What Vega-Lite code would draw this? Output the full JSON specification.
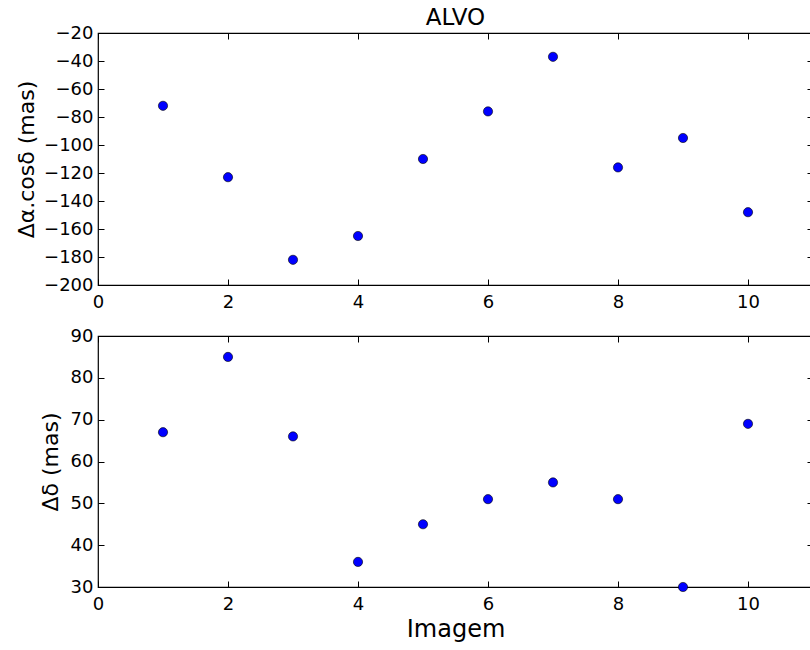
{
  "$schema": "https://vega.github.io/schema/vega-lite/v6.json",
  "padding": {"left": 14, "top": 6, "right": 0, "bottom": 5},
  "background": "white",
  "config": {
    "font": "DejaVu Sans",
    "view": {"stroke": "black", "strokeWidth": 1.2},
    "axis": {
      "domain": false, "grid": false,
      "tickColor": "black", "tickSize": -6, "tickWidth": 1,
      "labelFont": "DejaVu Sans", "labelFontSize": 18, "labelColor": "black",
      "titleFont": "DejaVu Sans", "titleFontWeight": "normal", "titleColor": "black"
    },
    "title": {"font": "DejaVu Sans", "fontSize": 23, "fontWeight": "normal", "color": "black"}
  },
  "datasets": {
    "pts": [
      {"imagem": 1, "dra": -72, "ddec": 67},
      {"imagem": 2, "dra": -123, "ddec": 85},
      {"imagem": 3, "dra": -182, "ddec": 66},
      {"imagem": 4, "dra": -165, "ddec": 36},
      {"imagem": 5, "dra": -110, "ddec": 45},
      {"imagem": 6, "dra": -76, "ddec": 51},
      {"imagem": 7, "dra": -37, "ddec": 55},
      {"imagem": 8, "dra": -116, "ddec": 51},
      {"imagem": 9, "dra": -95, "ddec": 30},
      {"imagem": 10, "dra": -148, "ddec": 69}
    ]
  },
  "data": {"name": "pts"},
  "bounds": "flush",
  "spacing": 51,
  "vconcat": [
    {
      "width": 715, "height": 252,
      "title": {"text": "ALVO", "offset": -6},
      "layer": [
        {
          "mark": {"type": "point", "filled": true, "fill": "#0000ff", "stroke": "black", "strokeWidth": 0.6, "size": 85, "opacity": 1, "clip": false},
          "encoding": {
            "x": {"field": "imagem", "type": "quantitative", "scale": {"domain": [0, 11], "nice": false, "zero": false},
                  "axis": {"orient": "bottom", "values": [0, 2, 4, 6, 8, 10], "title": null, "labelPadding": 14, "labelFlush": false}},
            "y": {"field": "dra", "type": "quantitative", "scale": {"domain": [-200, -20], "nice": false, "zero": false},
                  "axis": {"orient": "left", "values": [-200, -180, -160, -140, -120, -100, -80, -60, -40, -20], "title": "Δα.cosδ (mas)", "titleFontSize": 22, "labelPadding": 11, "titlePadding": 5, "labelFlush": false}}
          }
        },
        {
          "mark": {"type": "point", "opacity": 0},
          "encoding": {
            "x": {"field": "imagem", "type": "quantitative",
                  "axis": {"orient": "top", "values": [0, 2, 4, 6, 8, 10], "labels": false, "title": null}},
            "y": {"field": "dra", "type": "quantitative",
                  "axis": {"orient": "right", "values": [-200, -180, -160, -140, -120, -100, -80, -60, -40, -20], "labels": false, "title": null}}
          }
        }
      ],
      "resolve": {"axis": {"x": "independent", "y": "independent"}}
    },
    {
      "width": 715, "height": 251,
      "layer": [
        {
          "mark": {"type": "point", "filled": true, "fill": "#0000ff", "stroke": "black", "strokeWidth": 0.6, "size": 85, "opacity": 1, "clip": false},
          "encoding": {
            "x": {"field": "imagem", "type": "quantitative", "scale": {"domain": [0, 11], "nice": false, "zero": false},
                  "axis": {"orient": "bottom", "values": [0, 2, 4, 6, 8, 10], "title": "Imagem", "titleFontSize": 24, "titlePadding": 4, "labelPadding": 14, "labelFlush": false}},
            "y": {"field": "ddec", "type": "quantitative", "scale": {"domain": [30, 90], "nice": false, "zero": false},
                  "axis": {"orient": "left", "values": [30, 40, 50, 60, 70, 80, 90], "title": "Δδ (mas)", "titleFontSize": 22, "labelPadding": 11, "titlePadding": 8, "labelFlush": false}}
          }
        },
        {
          "mark": {"type": "point", "opacity": 0},
          "encoding": {
            "x": {"field": "imagem", "type": "quantitative",
                  "axis": {"orient": "top", "values": [0, 2, 4, 6, 8, 10], "labels": false, "title": null}},
            "y": {"field": "ddec", "type": "quantitative",
                  "axis": {"orient": "right", "values": [30, 40, 50, 60, 70, 80, 90], "labels": false, "title": null}}
          }
        }
      ],
      "resolve": {"axis": {"x": "independent", "y": "independent"}}
    }
  ]
}
